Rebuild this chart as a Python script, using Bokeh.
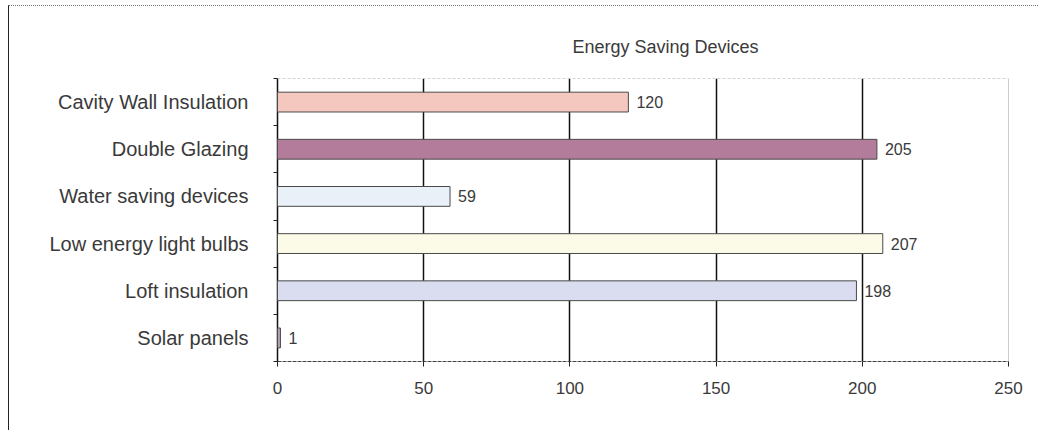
from bokeh.plotting import figure
from bokeh.models import ColumnDataSource, Range1d, FixedTicker, Span, LabelSet, Title
from bokeh.core.properties import value
from bokeh.embed import file_html
from bokeh.resources import INLINE

categories = ["Cavity Wall Insulation", "Double Glazing", "Water saving devices",
              "Low energy light bulbs", "Loft insulation", "Solar panels"]
values = [120, 205, 59, 207, 198, 1]
colors = ["#f5c8bf", "#b47c9b", "#eaf0f7", "#fcfbe7", "#dadcf0", "#b8a0b8"]
x_ticks = [0, 50, 100, 150, 200, 250]

n = len(categories)
ypos = [n - 1 - i for i in range(n)]

src = ColumnDataSource(dict(cat=categories, val=values, y=ypos, color=colors,
                            label=[str(v) for v in values]))

FONT = "Liberation Sans"

p = figure(width=1030, height=425, output_backend="svg", toolbar_location=None,
           x_range=Range1d(0, 250), y_range=Range1d(-0.5, n - 0.5),
           min_border_left=268, min_border_right=31, min_border_top=72,
           min_border_bottom=70)
p.styles = {"border-left": "1px solid #222", "border-top": "1px dotted #777",
            "margin-left": "8px", "margin-top": "5px"}
p.outline_line_color = None
p.background_fill_color = "white"

t = Title(text="Energy Saving Devices", align="left", offset=295,
          text_font=FONT, text_font_size="18px", text_font_style="normal",
          text_color="#3a3a3a", standoff=44)
p.add_layout(t, "above")

p.hbar(y="y", right="val", left=0, height=0.42, fill_color="color",
       line_color="#4a4a4a", line_width=1, source=src, level="overlay")

labels = LabelSet(x="val", y="y", text="label", source=src, x_offset=8,
                  text_baseline="middle", text_font=value(FONT), text_font_size="16px",
                  text_color="#3a3a3a")
p.add_layout(labels)

# x axis
p.xaxis.ticker = FixedTicker(ticks=x_ticks)
p.xaxis.axis_line_color = "#444444"
p.xaxis.axis_line_dash = "4 1"
p.xaxis.major_tick_line_color = "#222222"
p.xaxis.major_tick_out = 5
p.xaxis.major_tick_in = 0
p.xaxis.minor_tick_line_color = None
p.xaxis.major_label_text_font = FONT
p.xaxis.major_label_text_font_size = "17px"
p.xaxis.major_label_text_color = "#3a3a3a"
p.xaxis.major_label_standoff = 15

# y axis
p.yaxis.ticker = FixedTicker(ticks=ypos, minor_ticks=[i + 0.5 for i in range(n - 1)] + [-0.5, n - 0.5])
p.yaxis.major_label_overrides = {y: c for y, c in zip(ypos, categories)}
p.yaxis.major_tick_line_color = None
p.yaxis.minor_tick_line_color = "#222222"
p.yaxis.minor_tick_out = 4
p.yaxis.minor_tick_in = 0
p.yaxis.axis_line_color = "#111111"
p.yaxis.axis_line_width = 1.5
p.yaxis.major_label_text_font = FONT
p.yaxis.major_label_text_font_size = "20px"
p.yaxis.major_label_text_color = "#3a3a3a"
p.yaxis.major_label_standoff = 23

# grid
p.ygrid.grid_line_color = None
p.xgrid.ticker = FixedTicker(ticks=x_ticks[1:-1])
p.xgrid.grid_line_color = "#111111"
p.xgrid.grid_line_width = 1.5

p.add_layout(Span(location=x_ticks[-1], dimension="height", line_color="#999999", line_width=1))
p.add_layout(Span(location=n - 0.5, dimension="width", line_color="#aaaaaa", line_width=1,
                  line_dash="3 2"))

open("out.html", "w").write(file_html(p, INLINE))
